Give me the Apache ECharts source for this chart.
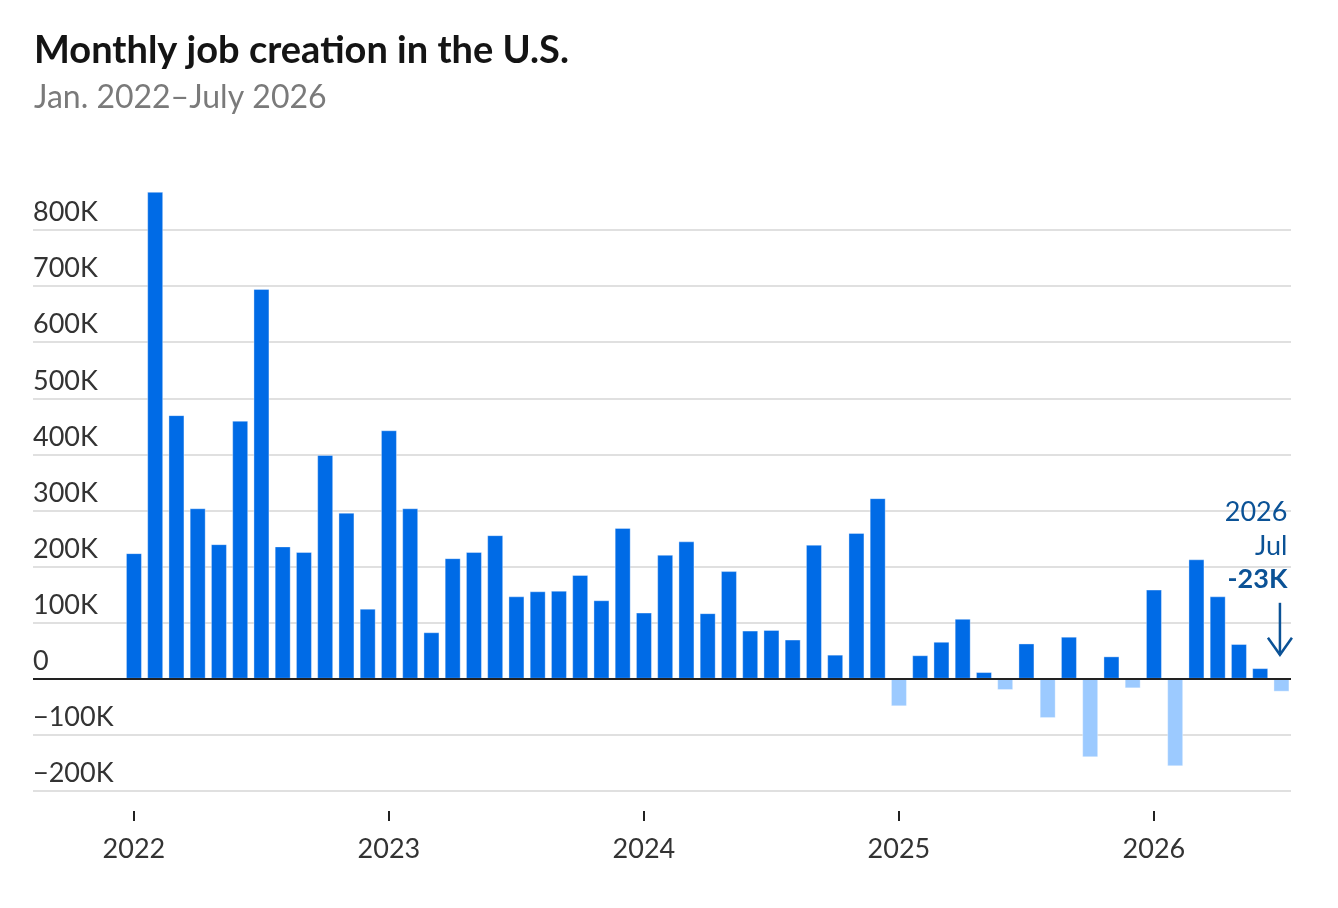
<!DOCTYPE html>
<html>
<head>
<meta charset="utf-8">
<title>Monthly job creation in the U.S.</title>
<script src="https://cdn.jsdelivr.net/npm/echarts@6.0.0/dist/echarts.min.js"></script>
<style>
  html, body { margin: 0; padding: 0; background: #fff; }
  #chart { width: 1338px; height: 908px; }
</style>
</head>
<body>
<div id="chart"></div>
<script>
var years = ['2022', '2023', '2024', '2025', '2026'];
var monthNames = ['Jan', 'Feb', 'Mar', 'Apr', 'May', 'Jun', 'Jul', 'Aug', 'Sep', 'Oct', 'Nov', 'Dec'];

// jobs added per month, thousands
var jobs2022 = [224, 868, 470, 304, 240, 460, 695, 236, 226, 399, 296, 125];
var jobs2023 = [443, 304, 83, 215, 226, 256, 147, 156, 157, 185, 140, 269];
var jobs2024 = [118, 221, 245, 117, 192, 86, 87, 70, 239, 43, 260, 322];
var jobs2025 = [-49, 42, 66, 107, 12, -20, 63, -70, 75, -140, 40, -17];
var jobs2026 = [159, -156, 213, 147, 62, 19, -23];

var yTicks = [-200, -100, 0, 100, 200, 300, 400, 500, 600, 700, 800];

var jobs = jobs2022.concat(jobs2023, jobs2024, jobs2025, jobs2026);
var months = jobs.map(function (v, i) {
    return monthNames[i % 12] + ' ' + years[Math.floor(i / 12)];
});
var yearTicks = years.map(function (y, i) { return i * 12; });

var POS = '#006be6', NEG = '#9ccaff', NOTE = '#0b5296';
var FONT = 'Lato';

function fmtK(v) {
    if (v === 0) return '0';
    return (v < 0 ? '\u2212' : '') + Math.abs(v) + 'K';
}

var chart = echarts.init(document.getElementById('chart'));

var option = {
    animation: false,
    textStyle: { fontFamily: FONT },
    title: {
        text: 'Monthly job creation in the U.S.',
        subtext: 'Jan. 2022\u2013July 2026',
        left: 29,
        top: 27,
        itemGap: 12,
        textStyle: { fontSize: 38, fontWeight: 'bold', color: '#141414', fontFamily: FONT },
        subtextStyle: { fontSize: 32, color: '#7a7a7a', fontFamily: FONT }
    },
    grid: { left: 33, right: 47, top: 230, bottom: 117 },
    xAxis: {
        type: 'value',
        min: -4.75,
        max: 54.45,
        offset: 20,
        splitLine: { show: false },
        axisLine: { show: false, onZero: false },
        axisTick: {
            show: true,
            length: 10,
            customValues: yearTicks,
            lineStyle: { color: '#222', width: 2 }
        },
        axisLabel: {
            customValues: yearTicks,
            margin: 25,
            fontSize: 27,
            color: '#333',
            formatter: function (v) { return years[Math.round(v / 12)]; }
        }
    },
    yAxis: {
        type: 'value',
        min: yTicks[0],
        max: yTicks[yTicks.length - 1],
        interval: yTicks[1] - yTicks[0],
        axisLine: { show: false },
        axisTick: { show: false },
        splitLine: { lineStyle: { color: '#d6d6d6', width: 1.5 } },
        axisLabel: {
            inside: true,
            margin: 0,
            verticalAlign: 'bottom',
            padding: [0, 0, 4, 0],
            fontSize: 27,
            color: '#333',
            formatter: fmtK
        }
    },
    series: [{
        type: 'bar',
        barWidth: 16,
        clip: false,
        data: jobs.map(function (v, i) {
            return { name: months[i], value: [i, v], itemStyle: { color: v < 0 ? NEG : POS } };
        }),
        itemStyle: { borderColor: 'rgba(255,255,255,0.35)', borderWidth: 1 },
        markLine: {
            silent: true,
            symbol: 'none',
            label: { show: false },
            lineStyle: { color: '#222', width: 2, type: 'solid' },
            data: [{ yAxis: 0 }]
        }
    }]
};

chart.setOption(option);

// callout on the latest month
var last = jobs.length - 1;
var p = chart.convertToPixel({ gridIndex: 0 }, [last, 0]);
var ax = p[0] - 1.5, ay = p[1];
var tipY = ay - 24, topY = ay - 76;
var lastVal = (jobs[last] < 0 ? '-' : '') + Math.abs(jobs[last]) + 'K';

function noteText(txt, y, bold) {
    return {
        type: 'text',
        x: p[0] + 6,
        y: y,
        silent: true,
        style: {
            text: txt,
            align: 'right', textAlign: 'right',
            verticalAlign: 'middle', textVerticalAlign: 'middle',
            fontSize: 27,
            fontFamily: FONT,
            fontWeight: bold ? 'bold' : 'normal',
            fill: NOTE
        }
    };
}

chart.setOption({
    graphic: [
        noteText(years[Math.floor(last / 12)], ay - 167, false),
        noteText(monthNames[last % 12], ay - 133, false),
        noteText(lastVal, ay - 100, true),
        {
            type: 'line', silent: true,
            shape: { x1: ax, y1: topY, x2: ax, y2: tipY },
            style: { stroke: NOTE, lineWidth: 2.5 }
        },
        {
            type: 'polyline', silent: true,
            shape: { points: [[ax - 12, tipY - 17], [ax, tipY], [ax + 12, tipY - 17]] },
            style: { stroke: NOTE, lineWidth: 2.5, fill: null }
        }
    ]
});
</script>
</body>
</html>
